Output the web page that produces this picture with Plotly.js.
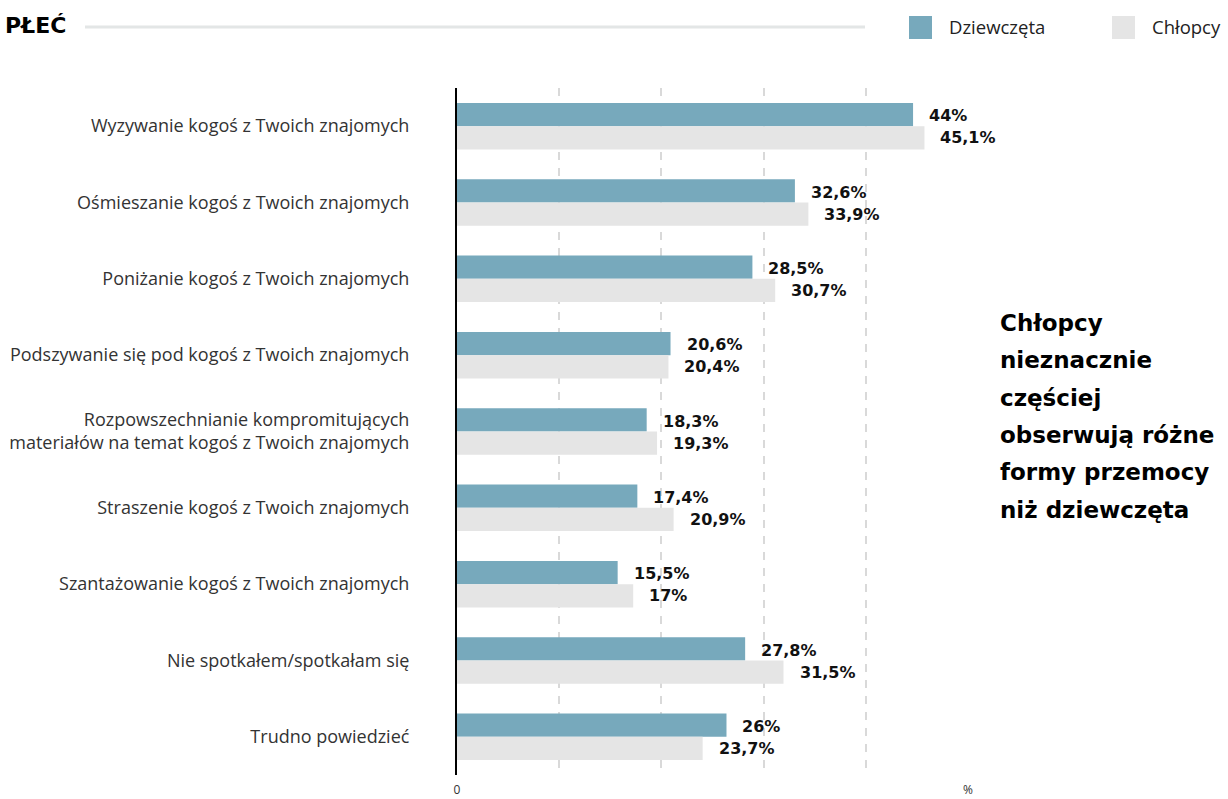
<!DOCTYPE html>
<html>
<head>
<meta charset="utf-8">
<script src="https://cdn.plot.ly/plotly-3.0.1.min.js"></script>
<style>html,body{margin:0;padding:0;background:#fff;}#chart{width:1228px;height:799px;}</style>
</head>
<body>
<div id="chart"></div>
<script>
const categories = [
  "Wyzywanie kogoś z Twoich znajomych",
  "Ośmieszanie kogoś z Twoich znajomych",
  "Poniżanie kogoś z Twoich znajomych",
  "Podszywanie się pod kogoś z Twoich znajomych",
  "Rozpowszechnianie kompromitujących<br>materiałów na temat kogoś z Twoich znajomych",
  "Straszenie kogoś z Twoich znajomych",
  "Szantażowanie kogoś z Twoich znajomych",
  "Nie spotkałem/spotkałam się",
  "Trudno powiedzieć"
];
const seriesNames = ["Dziewczęta", "Chłopcy"];
const girls = [44, 32.6, 28.5, 20.6, 18.3, 17.4, 15.5, 27.8, 26];
const boys = [45.1, 33.9, 30.7, 20.4, 19.3, 20.9, 17, 31.5, 23.7];
const xTickText = ["0", "", "", "", "", "%"];
const sectionTitle = "PŁEĆ";
const sideNote = ["Chłopcy", "nieznacznie", "częściej", "obserwują różne", "formy przemocy", "niż dziewczęta"];

const colors = ["#77a9bc", "#e5e5e5"];
const W = 1228, H = 799;
const L = 457, R = 968, T = 88, B = 775;
const px2x = p => (p - L) / (R - L);
const px2y = p => (B - p) / (B - T);
const xMax = 49.3;
const xTicks = xTickText.map((_, i) => xMax * i / 5);

const fmt = v => String(v).replace('.', ',') + '%';
const boldFont = '"DejaVu Sans", sans-serif';
const textFont = '"Open Sans", sans-serif';

const traces = [girls, boys].map((vals, i) => ({
  type: 'bar', orientation: 'h', name: seriesNames[i],
  y: categories, x: vals,
  marker: {color: colors[i]},
  hoverinfo: 'skip', showlegend: false
}));

const annotations = [];
// value labels
[girls, boys].forEach((vals, i) => {
  vals.forEach((v, k) => {
    annotations.push({
      x: v, y: categories[k], xref: 'x', yref: 'y',
      text: '<b>' + fmt(v) + '</b>', showarrow: false,
      xanchor: 'left', yanchor: 'middle', xshift: 14,
      yshift: i === 0 ? 10.5 : -11.5,
      font: {family: boldFont, size: 16, color: '#111'}
    });
  });
});
// section title
annotations.push({
  xref: 'paper', yref: 'paper', x: px2x(3), y: px2y(26),
  xanchor: 'left', yanchor: 'middle', showarrow: false,
  text: '<b>' + sectionTitle + '</b>',
  font: {family: boldFont, size: 22, color: '#000'}
});
// legend
const legX = [909, 1112];
seriesNames.forEach((n, i) => {
  annotations.push({
    xref: 'paper', yref: 'paper', x: px2x(legX[i] + 38), y: px2y(27),
    xanchor: 'left', yanchor: 'middle', showarrow: false, text: n,
    font: {family: textFont, size: 18.5, color: '#222'}
  });
});
// side note
sideNote.forEach((line, i) => {
  annotations.push({
    xref: 'paper', yref: 'paper', x: px2x(998), y: px2y(323 + i * 37.3),
    xanchor: 'left', yanchor: 'middle', showarrow: false,
    text: '<b>' + line + '</b>',
    font: {family: boldFont, size: 23, color: '#000'}
  });
});

const shapes = [
  {type: 'line', xref: 'paper', yref: 'paper', x0: px2x(85), x1: px2x(865), y0: px2y(27), y1: px2y(27),
   line: {color: '#e3e6e6', width: 3}}
];
seriesNames.forEach((n, i) => {
  shapes.push({type: 'rect', xref: 'paper', yref: 'paper',
    x0: px2x(legX[i]), x1: px2x(legX[i] + 23), y0: px2y(39), y1: px2y(16),
    line: {width: 0}, fillcolor: colors[i]});
});

const layout = {
  width: W, height: H,
  margin: {l: L, r: W - R, t: T, b: H - B},
  paper_bgcolor: '#fff', plot_bgcolor: '#fff',
  barmode: 'group', bargap: 0.39, bargroupgap: 0,
  showlegend: false,
  xaxis: {
    range: [0, xMax], tickvals: xTicks, ticktext: xTickText,
    showgrid: true, gridcolor: '#d9d9d9', gridwidth: 2, griddash: '8px,8px',
    zeroline: false, showline: false, ticks: '',
    ticklabelstandoff: 6,
    tickfont: {family: textFont, size: 12, color: '#333'},
    fixedrange: true
  },
  yaxis: {
    autorange: 'reversed', type: 'category',
    showline: true, linecolor: '#000', linewidth: 2,
    showgrid: false, ticks: '', ticklabelstandoff: 42,
    tickfont: {family: textFont, size: 18, color: '#333'},
    fixedrange: true
  },
  annotations: annotations, shapes: shapes
};

Plotly.newPlot('chart', traces, layout, {displayModeBar: false, staticPlot: true});
</script>
</body>
</html>
